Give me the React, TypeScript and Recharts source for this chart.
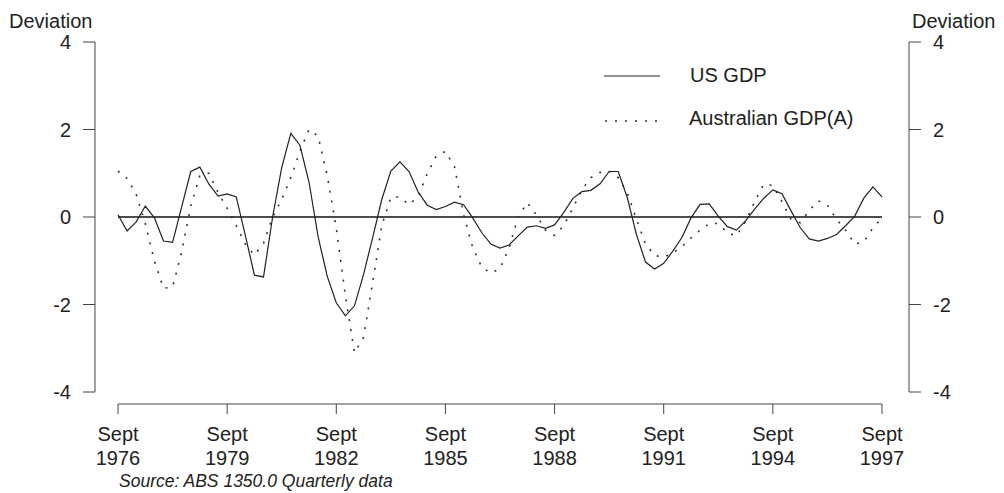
import React from 'react';
import { LineChart, Line, XAxis, YAxis, ReferenceLine } from 'recharts';

// quarterly deviations, Sept 1976 .. Sept 1997
const usGdp = [
  0.05, -0.32, -0.11, 0.25, -0.02, -0.55, -0.58, 0.23, 1.04, 1.14,
  0.75, 0.48, 0.53, 0.46, -0.42, -1.33, -1.37, 0.0, 1.13, 1.91,
  1.64, 0.8, -0.45, -1.35, -1.96, -2.26, -2.03, -1.31, -0.47, 0.4,
  1.05, 1.26, 1.04, 0.57, 0.27, 0.17, 0.24, 0.34, 0.28, -0.02,
  -0.36, -0.62, -0.71, -0.64, -0.43, -0.23, -0.2, -0.26, -0.18, 0.1,
  0.42, 0.58, 0.61, 0.76, 1.04, 1.04, 0.44, -0.4, -1.03, -1.19,
  -1.06, -0.78, -0.47, -0.02, 0.29, 0.3, 0.02, -0.22, -0.3, -0.09,
  0.18, 0.43, 0.62, 0.53, 0.14, -0.24, -0.5, -0.55, -0.49, -0.4,
  -0.2, 0.02, 0.43, 0.69, 0.46,
];

const ausGdp = [
  1.05, 0.88, 0.52, -0.15, -1.0, -1.63, -1.6, -0.8, 0.25, 0.95,
  1.0, 0.56, 0.2, -0.2, -0.62, -0.87, -0.6, 0.0, 0.4, 0.9,
  1.5, 2.0, 1.85, 0.95, -0.25, -1.8, -3.1, -2.75, -1.5, -0.2,
  0.45, 0.46, 0.28, 0.47, 0.99, 1.4, 1.5, 1.15, 0.05, -0.7,
  -1.15, -1.28, -1.18, -0.7, 0.0, 0.33, 0.05, -0.3, -0.42, -0.2,
  0.2, 0.62, 0.9, 1.02, 1.05, 0.9, 0.55, -0.05, -0.62, -0.88,
  -0.92, -0.82, -0.68, -0.48, -0.3, -0.15, -0.15, -0.36, -0.43, -0.1,
  0.35, 0.75, 0.72, 0.35, -0.05, -0.13, 0.15, 0.37, 0.27, -0.05,
  -0.3, -0.62, -0.57, -0.25, -0.02,
];

const tickYears = ['1976', '1979', '1982', '1985', '1988', '1991', '1994', '1997'];
const yTicks = [-4, -2, 0, 2, 4];

const data = usGdp.map((v, i) => ({ q: i, us: v, aus: ausGdp[i] }));
const xTicks = tickYears.map((_, k) => k * 12);
const lastQ = usGdp.length - 1;

// axis geometry (in data units) so the axis lines sit apart from the plotted area
const Y_MIN = -4.274;
const LEFT_AXIS_Q = -2.53;
const RIGHT_AXIS_Q = lastQ + 2.97;

const FONT = '"Liberation Sans", Arial, Helvetica, sans-serif';
const AXIS = '#444';

const XTick = (props: any) => {
  const { x, y, payload } = props;
  const year = tickYears[payload.value / 12];
  return (
    <text x={x} y={y} textAnchor="middle" fill="#222" fontSize={20}>
      <tspan x={x} dy={27}>Sept</tspan>
      <tspan x={x} dy={24}>{year}</tspan>
    </text>
  );
};

const App: React.FC = () => {
  return (
    <div style={{ position: 'absolute', left: 0, top: 0, width: 1004, height: 493, background: '#fff', fontFamily: FONT }}>
      <LineChart width={1004} height={493} data={data} margin={{ top: 42, right: 35, bottom: 49, left: 35 }}>
        <XAxis
          dataKey="q"
          type="number"
          domain={[0, lastQ]}
          ticks={xTicks}
          padding={{ left: 23, right: 27 }}
          axisLine={false}
          tickLine={{ stroke: AXIS }}
          tickSize={10}
          tickMargin={0}
          height={40}
          tick={<XTick />}
        />
        <YAxis
          yAxisId="left"
          orientation="left"
          domain={[Y_MIN, 4]}
          allowDataOverflow
          ticks={yTicks}
          width={60}
          axisLine={false}
          tickLine={{ stroke: AXIS }}
          tickSize={12}
          tickMargin={12}
          tick={{ fill: '#222', fontSize: 20 }}
        />
        <YAxis
          yAxisId="right"
          orientation="right"
          domain={[Y_MIN, 4]}
          allowDataOverflow
          ticks={yTicks}
          width={60}
          axisLine={false}
          tickLine={{ stroke: AXIS }}
          tickSize={12}
          tickMargin={12}
          tick={{ fill: '#222', fontSize: 20 }}
        />
        <ReferenceLine yAxisId="left" segment={[{ x: 0, y: Y_MIN }, { x: lastQ, y: Y_MIN }]} stroke={AXIS} ifOverflow="visible" />
        <ReferenceLine yAxisId="left" segment={[{ x: LEFT_AXIS_Q, y: -4 }, { x: LEFT_AXIS_Q, y: 4 }]} stroke={AXIS} ifOverflow="visible" />
        <ReferenceLine yAxisId="right" segment={[{ x: RIGHT_AXIS_Q, y: -4 }, { x: RIGHT_AXIS_Q, y: 4 }]} stroke={AXIS} ifOverflow="visible" />
        <ReferenceLine yAxisId="left" segment={[{ x: 0, y: 0 }, { x: lastQ, y: 0 }]} stroke="#111" strokeWidth={1.4} ifOverflow="visible" />
        <Line
          yAxisId="left"
          type="linear"
          dataKey="aus"
          stroke="#333"
          strokeWidth={1.6}
          strokeDasharray="2 8"
          dot={false}
          isAnimationActive={false}
        />
        <Line
          yAxisId="right"
          type="linear"
          dataKey="us"
          stroke="#222"
          strokeWidth={1.2}
          dot={false}
          isAnimationActive={false}
        />
      </LineChart>
      <svg width={1004} height={493} style={{ position: 'absolute', left: 0, top: 0, pointerEvents: 'none' }}>
        <text x={9} y={28} fontSize={20} fill="#222">Deviation</text>
        <text x={912} y={28} fontSize={20} fill="#222">Deviation</text>
        <line x1={604} y1={76} x2={660} y2={76} stroke="#222" strokeWidth={1.2} />
        <text x={690} y={82} fontSize={20} fill="#222">US GDP</text>
        <line x1={605} y1={121} x2={660} y2={121} stroke="#333" strokeWidth={1.6} strokeDasharray="2 8" />
        <text x={689} y={125} fontSize={20} fill="#222">Australian GDP(A)</text>
        <text x={119} y={487} fontSize={17.5} fontStyle="italic" fill="#222">Source: ABS 1350.0 Quarterly data</text>
      </svg>
    </div>
  );
};

export default App;
